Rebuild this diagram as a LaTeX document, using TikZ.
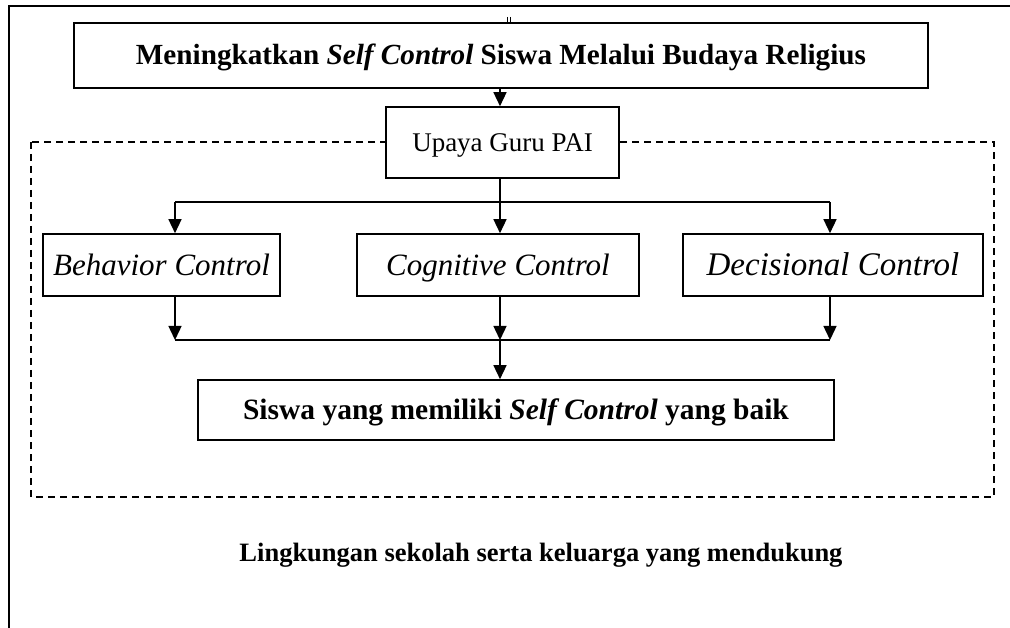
\documentclass[tikz,border=0pt]{standalone}
\usepackage{fontspec}
\setmainfont{Liberation Serif}
\usetikzlibrary{arrows.meta}
\begin{document}
\begin{tikzpicture}[x=1pt,y=-1pt,
  box/.style={draw, line width=1.6pt, fill=white, inner sep=0pt, anchor=center},
  arr/.style={line width=1.4pt, -{Triangle[length=14pt,width=13pt]}},
  ln/.style={line width=1.4pt},
  fs/.style={font=\fontsize{#1}{#1}\selectfont, text height={0.78*#1pt}, text depth={0.13*#1pt}}
]
\useasboundingbox (0,0) rectangle (1010,628);
% outer frame
\draw[line width=1.5pt] (9,628) -- (9,6) -- (1010,6);
\draw[line width=0.8pt] (507,17) -- (507,23) (510,17) -- (510,23);
% dashed environment
\draw[line width=1.3pt, dash pattern=on 7pt off 5pt] (31,142) rectangle (994,497);
% nodes
\node[box, minimum width=854pt, minimum height=65pt, fs=29.2] (top) at (501,55.5)
  {\textbf{Meningkatkan \textit{Self Control} Siswa Melalui Budaya Religius}};
\node[box, minimum width=233pt, minimum height=71pt, fs=27] (upaya) at (502.5,142.5)
  {Upaya Guru PAI};
\node[box, minimum width=237pt, minimum height=62pt, fs=31] (beh) at (161.5,265)
  {\textit{Behavior Control}};
\node[box, minimum width=282pt, minimum height=62pt, fs=31] (cog) at (498,265)
  {\textit{Cognitive Control}};
\node[box, minimum width=300pt, minimum height=62pt, fs=33] (dec) at (833,265)
  {\textit{Decisional Control}};
\node[box, minimum width=636pt, minimum height=60pt, fs=29.5] (res) at (516,410)
  {\textbf{Siswa yang memiliki \textit{Self Control} yang baik}};
\node[fs=26.5, anchor=center] (env) at (541,553)
  {\textbf{Lingkungan sekolah serta keluarga yang mendukung}};
% coordinates
\coordinate (sx) at (500,0);
\coordinate (d1) at (175,202);
\coordinate (d2) at (500,202);
\coordinate (d3) at (830,202);
\coordinate (m1) at (175,340);
\coordinate (m2) at (500,340);
\coordinate (m3) at (830,340);
% connectors
\draw[arr] (top.south -| sx) -- (upaya.north -| sx);
\draw[ln] (upaya.south -| sx) -- (d2);
\draw[ln] (d1) -- (d3);
\draw[arr] (d1) -- (beh.north -| d1);
\draw[arr] (d2) -- (cog.north -| d2);
\draw[arr] (d3) -- (dec.north -| d3);
\draw[arr] (beh.south -| m1) -- (m1);
\draw[arr] (cog.south -| m2) -- (m2);
\draw[arr] (dec.south -| m3) -- (m3);
\draw[ln] (m1) -- (m3);
\draw[arr] (m2) -- (res.north -| m2);
\end{tikzpicture}
\end{document}
